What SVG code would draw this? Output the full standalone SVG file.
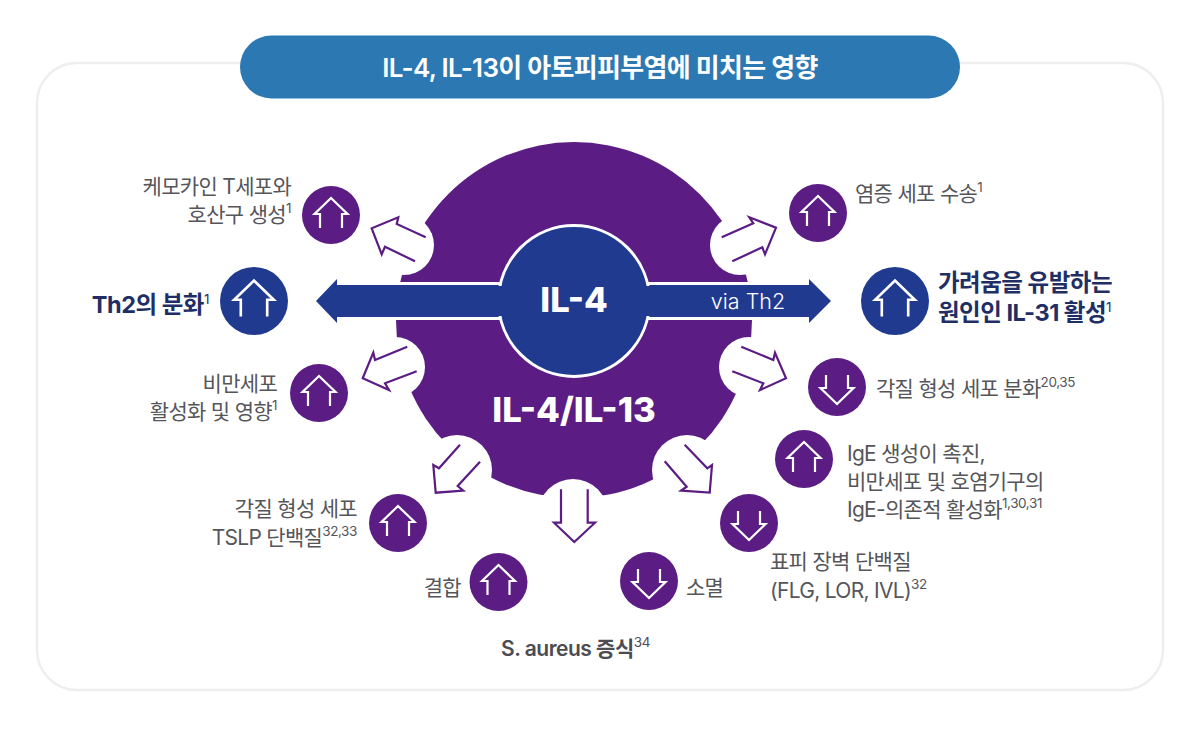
<svg xmlns="http://www.w3.org/2000/svg" width="1200" height="731" viewBox="0 0 1200 731">
<style>
text{font-family:"Inter","Noto Sans CJK KR","Noto Sans",sans-serif}
.l{font-size:21px;fill:#55555a;letter-spacing:-.7px}
.b{font-size:23.500px;font-weight:700;fill:#1f2f66;letter-spacing:-.5px}
.s{font-size:13.500px;letter-spacing:-.4px;font-weight:400}
.e{text-anchor:end}
.p{fill:#5b1c83}
.n{fill:#203a8f}
.i{fill:none;stroke:#fff;stroke-width:2.200}
.a{fill:none;stroke:#5b1c83;stroke-width:2.200}
.w{fill:#fff}
</style>
<defs>
<path id="u" d="M-11 13V-1H-16.5L0-17L16.5-1H11V13" class="i"/>
<path id="d" d="M-11-12V1H-16.5L0 17L16.5 1H11V-12" class="i"/>
</defs>
<rect x="37" y="63" width="1126" height="627" rx="40" fill="#fff" stroke="#eeeeee" stroke-width="2.500"/>
<g id="title"><rect x="240" y="35.500" width="720" height="63" rx="31.500" fill="#2b78b3"/>
<text x="600" y="77" text-anchor="middle" font-size="26" font-weight="600" fill="#fff" letter-spacing="-.7">IL-4, IL-13이 아토피피부염에 미치는 영향</text></g>
<g id="hub">
<circle cx="574" cy="320" r="178" class="p"/>
<circle cx="404" cy="245" r="30" class="w"/><circle cx="740" cy="245" r="30" class="w"/>
<circle cx="395" cy="367" r="30" class="w"/><circle cx="749" cy="367" r="30" class="w"/>
<circle cx="457" cy="470" r="35" class="w"/><circle cx="687" cy="470" r="35" class="w"/>
<circle cx="573" cy="514" r="35" class="w"/>
<text x="574" y="422" text-anchor="middle" font-size="34.700" font-weight="800" fill="#fff">IL-4/IL-13</text>
</g>
<g id="il4">
<path d="M316 301L337 279V285H809V279L831 301L809 323V317H337V323Z" class="n"/>
<path d="M337 283.500H809M337 318.500H809" stroke="#fff" stroke-width="3" fill="none"/>
<circle cx="574" cy="301" r="75.500" class="n" stroke="#fff" stroke-width="3"/>
<path d="M497 286H651V316H497Z" class="n"/>
<text x="574" y="312" text-anchor="middle" font-size="34.500" font-weight="800" fill="#fff">IL-4</text>
<text x="748" y="309" text-anchor="middle" font-size="21.500" font-weight="300" fill="#fff">via Th2</text>
</g>
<g id="connectors">
<path class="a" d="M425.700 237.300L396.700 224L398.300 217.300L371.700 228.300L381.700 254.300L385 246.700L415 261.300"/>
<path class="a" d="M721.700 237.300L753.300 223.300L749.300 217.300L776 227.700L765 254.300L762.300 247.300L732.300 261.300"/>
<path class="a" d="M407.300 346.700L375 360L373.300 352.700L362.700 378.300L389 390L385 383.300L416.700 371.300"/>
<path class="a" d="M741.300 346.700L773.300 360L775 352.700L786 378.300L760 390L763.300 383.300L732.300 371.300"/>
<path class="a" d="M460 444.700L439 468.300L433.300 465L435.700 492.700L463.300 490.700L457.700 486L480 461.700"/>
<path class="a" d="M684.700 444.700L707.300 468.300L712 465L709.700 492.700L681 490.700L686.700 486.700L664.700 461.300"/>
<path class="a" d="M561 489.300V522.700H554L574.300 542L595 522.700H587.700V489.300"/>
</g>
<g id="n1"><circle cx="331" cy="215" r="29" class="p"/><use href="#u" x="331" y="215"/>
<text class="l e" x="291" y="194">케모카인 T세포와</text><text class="l e" x="291" y="222">호산구 생성<tspan class="s" dy="-9">1</tspan></text></g>
<g id="n2"><circle cx="254" cy="301" r="34" class="n"/><use href="#u" transform="translate(254 301) scale(1.2)"/>
<text class="b e" x="209" y="313">Th2의 분화<tspan class="s" dy="-9">1</tspan></text></g>
<g id="n3"><circle cx="319" cy="393" r="29" class="p"/><use href="#u" x="319" y="393"/>
<text class="l e" x="277" y="391">비만세포</text><text class="l e" x="277" y="419">활성화 및 영향<tspan class="s" dy="-9">1</tspan></text></g>
<g id="n4"><circle cx="398" cy="523" r="29" class="p"/><use href="#u" x="398" y="523"/>
<text class="l e" x="357" y="516">각질 형성 세포</text><text class="l e" x="357" y="545">TSLP 단백질<tspan class="s" dy="-9">32,33</tspan></text></g>
<g id="n5"><circle cx="498.500" cy="582" r="29" class="p"/><use href="#u" x="498.500" y="582"/>
<text class="l e" x="461" y="595">결합</text></g>
<g id="n6"><circle cx="649" cy="581" r="29" class="p"/><use href="#d" x="649" y="581"/>
<text class="l" x="686" y="595">소멸</text></g>
<g id="n7"><text x="501" y="656" font-size="21" font-weight="600" fill="#4c4c52" letter-spacing="-.5">S. aureus 증식<tspan class="s" dy="-9">34</tspan></text></g>
<g id="n8"><circle cx="749" cy="523" r="29" class="p"/><use href="#d" x="749" y="523"/>
<text class="l" x="770" y="569">표피 장벽 단백질</text><text class="l" x="770" y="598">(FLG, LOR, IVL)<tspan class="s" dy="-9">32</tspan></text></g>
<g id="n9"><circle cx="804" cy="459" r="29" class="p"/><use href="#u" x="804" y="459"/>
<text class="l" x="847" y="461">IgE 생성이 촉진,</text><text class="l" x="847" y="489">비만세포 및 호염기구의</text><text class="l" x="847" y="517">IgE-의존적 활성화<tspan class="s" dy="-9">1,30,31</tspan></text></g>
<g id="n10"><circle cx="837" cy="387" r="29" class="p"/><use href="#d" x="837" y="387"/>
<text class="l" x="876" y="396">각질 형성 세포 분화<tspan class="s" dy="-9">20,35</tspan></text></g>
<g id="n11"><circle cx="895" cy="301" r="34" class="n"/><use href="#u" transform="translate(895 301) scale(1.2)"/>
<text class="b" x="938" y="291">가려움을 유발하는</text><text class="b" x="938" y="321">원인인 IL-31 활성<tspan class="s" dy="-9">1</tspan></text></g>
<g id="n12"><circle cx="818" cy="213" r="29" class="p"/><use href="#u" x="818" y="213"/>
<text class="l" x="855" y="201">염증 세포 수송<tspan class="s" dy="-9">1</tspan></text></g>
</svg>
